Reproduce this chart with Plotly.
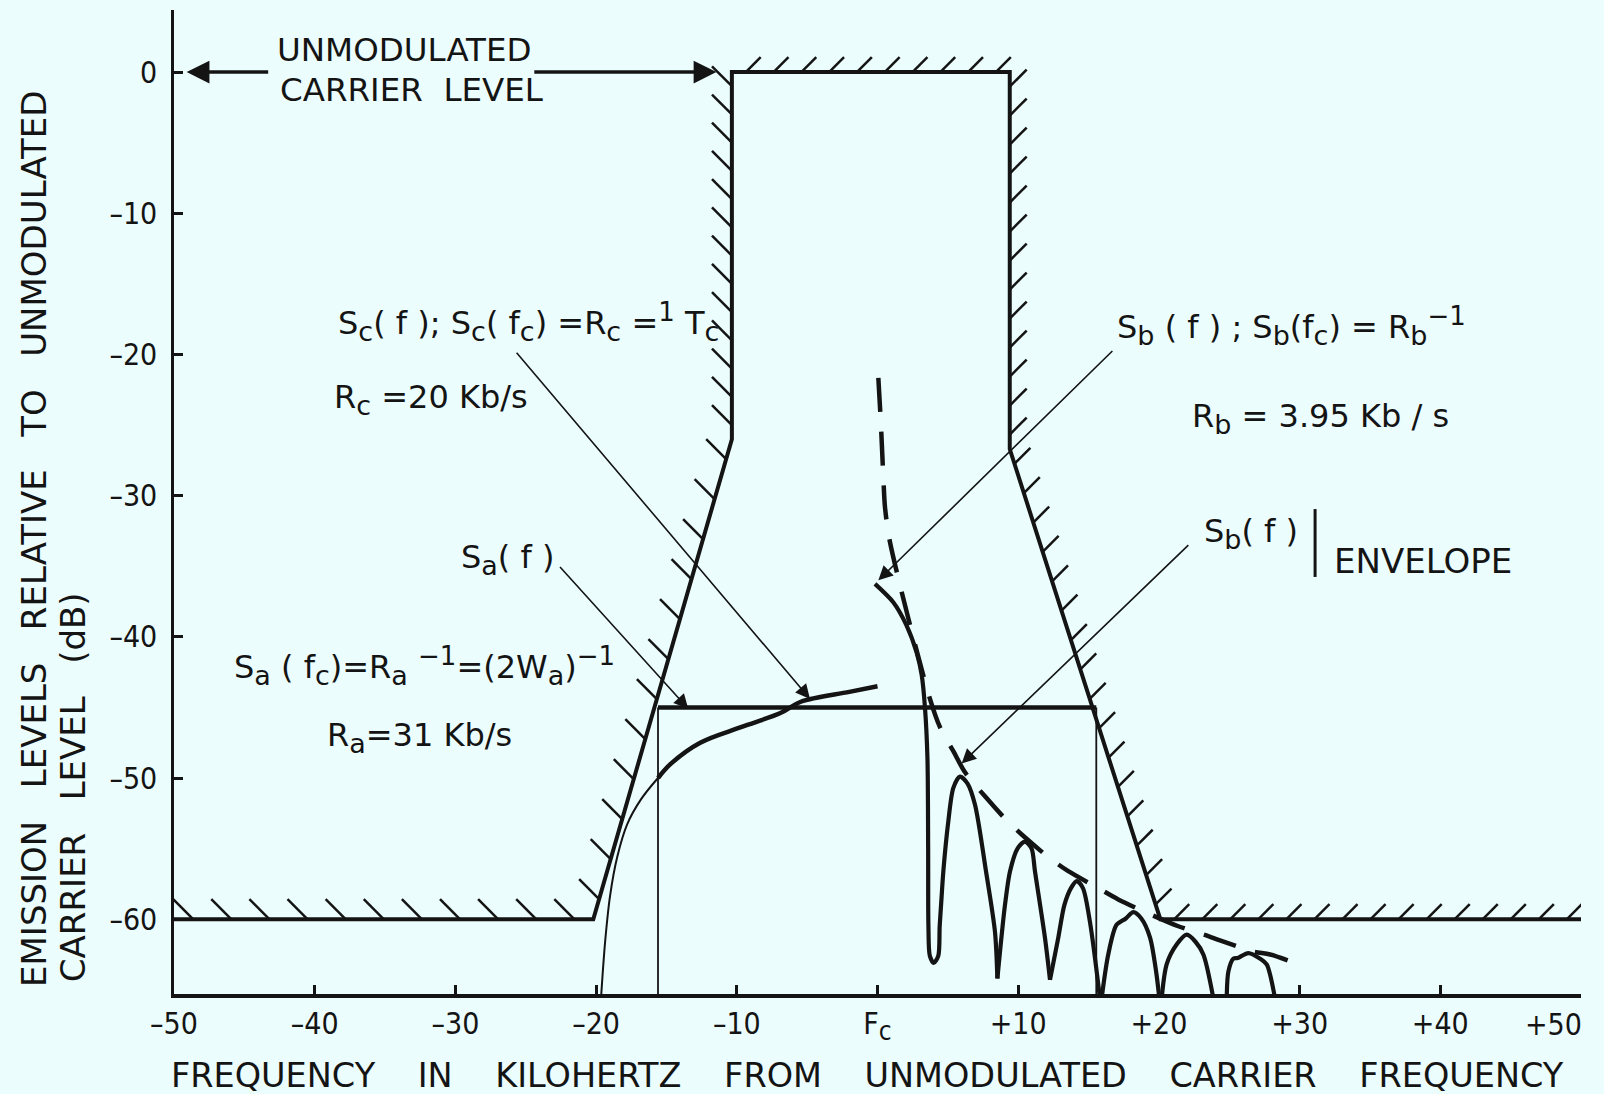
import math
import plotly.graph_objects as go

INK = "#141414"
PAPER = "#ECFDFD"
FONT = "DejaVu Sans"
COND = "DejaVu Sans Condensed, DejaVu Sans"

# ---------------------------------------------------------------- data
# spectrum emission mask (kHz from carrier, dB)
MASK_X = [-50, -20.2, -10.35, -10.35, 9.4, 9.4, 20.1, 50]
MASK_Y = [-60, -60, -26.0, 0, 0, -26.7, -60, -60]

# -45 dB reference level and its limits
LEVEL_X = [-15.6, 15.55]
LEVEL_Y = [-45.0, -45.0]

# S_a(f) spectrum
SA_X = [-19.65, -19.35, -19.0, -18.5, -17.8, -16.8, -15.6, -14.7, -12.6, -9.7, -6.9, -5.45, -2.0, 0.0]
SA_Y = [-65.6, -61.5, -58.3, -55.6, -53.3, -51.5, -50.0, -49.0, -47.5, -46.4, -45.4, -44.6, -43.9, -43.5]

# S_b(f) spectrum, one run per lobe
SB_X = [-0.18, 1.12, 2.07, 2.78, 3.14, 3.38, 3.55, 3.6, 3.62, 3.72, 4.0, 4.32, 4.42, 4.55,
        4.68, 5.03, 5.39, 5.86, 6.4, 6.93, 7.71, 8.35, 8.52, None,
        8.52, 9.06, 9.42, 9.95, 10.48, 10.95, 11.19, 11.9, 12.26, None,
        12.26, 12.85, 13.28, 13.75, 14.16, 14.6, 15.10, 15.81, None,
        15.93, 16.40, 16.99, 17.65, 18.18, 18.75, 19.37, 19.8, 20.03, None,
        20.2, 20.55, 21.26, 21.98, 22.6, 23.16, 23.87, None,
        24.82, 24.94, 25.3, 25.6, 26.36, 27.2, 27.66, 28.25]
SB_Y = [-36.25, -37.55, -39.2, -41.1, -42.7, -45.1, -48.6, -55.0, -60.5, -62.6, -63.1, -62.6, -60.5, -58.5,
        -56.6, -53.1, -50.7, -49.9, -50.4, -51.9, -56.6, -60.9, -64.2, None,
        -64.2, -59.0, -56.6, -55.0, -54.5, -55.0, -56.6, -61.3, -64.3, None,
        -64.3, -61.3, -59.0, -57.8, -57.3, -57.8, -60.2, -65.6, None,
        -65.6, -62.5, -60.4, -59.95, -59.5, -59.95, -61.3, -63.7, -65.6, None,
        -65.6, -63.2, -61.8, -61.1, -61.6, -62.5, -65.6, None,
        -65.6, -63.7, -62.8, -62.75, -62.4, -62.8, -63.2, -65.6]

# S_b(f) envelope
ENV_X = [0.06, 0.23, 0.42, 0.53, 0.89, 3.61, 4.44, 5.39, 6.22, 7.64, 9.18, 10.25, 12.14,
         13.56, 15.69, 17.11, 19.49, 21.38, 23.51, 24.34, 26.71, 27.9, 29.9]
ENV_Y = [-21.65, -24.7, -28.8, -30.8, -33.3, -44.0, -46.4, -48.1, -49.6, -51.3, -53.0, -54.0, -55.6,
         -56.6, -57.8, -58.6, -59.7, -60.5, -61.2, -61.5, -62.3, -62.5, -63.2]

SP = "\u00a0"

X_TICKS = [-50, -40, -30, -20, -10, 0, 10, 20, 30, 40, 50]
X_TICK_TEXT = ["\u201350", "\u201340", "\u201330", "\u201320", "\u201310",
               "F<sub><span style='font-size:26px'>c</span></sub>",
               "+10", "+20", "+30", "+40", "+50"]
Y_TICKS = [0, -10, -20, -30, -40, -50, -60]
Y_TICK_TEXT = ["0", "\u201310", "\u201320", "\u201330", "\u201340", "\u201350", "\u201360"]


def sub(t, px=27):
    return f"<sub><span style='font-size:{px}px'>{t}</span></sub>"


def sup(t, px=26):
    return f"<sup><span style='font-size:{px}px'>{t}</span></sup>"


fig = go.Figure()

# hatching on the outside of the mask, evenly spread along each edge
HATCH_STEP = [2.7, 3.0, 2.05, 2.0, 2.1, 2.2, 2.0]
HATCH_LEN = [2.0, 2.0, 2.0, 1.5, 1.7, 1.6, 1.5]
HATCH_DIR = [(-1, 1), (-1, 1), (-1, 1), (1, 1), (1, 1), (1, 1), (1, 1)]
hx, hy = [], []
for i in range(len(MASK_X) - 1):
    x0, y0, x1, y1 = MASK_X[i], MASK_Y[i], MASK_X[i + 1], MASK_Y[i + 1]
    seg = math.hypot(x1 - x0, y1 - y0)
    n = max(1, round(seg / HATCH_STEP[i]))
    ux, uy = HATCH_DIR[i]
    k = HATCH_LEN[i] / math.sqrt(2)
    for j in range(n):
        t = (j + 0.5) / n
        px, py = x0 + t * (x1 - x0), y0 + t * (y1 - y0)
        hx += [px, px + ux * k, None]
        hy += [py, py + uy * k, None]
fig.add_trace(go.Scatter(x=hx, y=hy, mode="lines", line=dict(color=INK, width=2.5),
                         hoverinfo="skip", showlegend=False))

# mask outline
fig.add_trace(go.Scatter(x=MASK_X, y=MASK_Y, mode="lines",
                         line=dict(color=INK, width=4), showlegend=False))

# -45 dB level with its drop lines to the frequency axis
fig.add_trace(go.Scatter(x=LEVEL_X, y=LEVEL_Y, mode="lines",
                         line=dict(color=INK, width=4.5), showlegend=False))
for xv in LEVEL_X:
    fig.add_trace(go.Scatter(x=[xv, xv], y=[LEVEL_Y[0], -70], mode="lines",
                             line=dict(color=INK, width=1.8), showlegend=False))

# S_a(f): thin outside the mask, heavy inside
SPLIT = SA_X.index(-15.6)
fig.add_trace(go.Scatter(x=SA_X[:SPLIT + 1], y=SA_Y[:SPLIT + 1], mode="lines", line_shape="spline",
                         line=dict(color=INK, width=2), showlegend=False))
fig.add_trace(go.Scatter(x=SA_X[SPLIT:], y=SA_Y[SPLIT:], mode="lines", line_shape="spline",
                         line=dict(color=INK, width=4.5), showlegend=False))

# S_b(f) lobes
fig.add_trace(go.Scatter(x=SB_X, y=SB_Y, mode="lines",
                         line=dict(color=INK, width=4.2, shape="spline", smoothing=0.8),
                         connectgaps=False, showlegend=False))

# S_b(f) envelope
fig.add_trace(go.Scatter(x=ENV_X, y=ENV_Y, mode="lines",
                         line=dict(color=INK, width=4.5, shape="spline", smoothing=0.8,
                                   dash="34px,20px"),
                         showlegend=False))

anns = []


def label(x, y, text, size=32, anchor="left"):
    anns.append(dict(x=x, y=y, xref="x", yref="y", text=text, showarrow=False,
                     xanchor=anchor, yanchor="middle",
                     font=dict(family=FONT, size=size, color=INK)))


def pointer(tail, head, width=1.6, size=1.8, style=2):
    anns.append(dict(x=head[0], y=head[1], ax=tail[0], ay=tail[1], xref="x", yref="y",
                     axref="x", ayref="y", text="", showarrow=True, arrowhead=style,
                     arrowsize=size, arrowwidth=width, arrowcolor=INK, standoff=0))


label(-42.8, 1.6, "UNMODULATED", 32.5)
label(-42.6, -1.25, "CARRIER" + SP * 2 + "LEVEL", 32.5)
pointer((-43.2, 0), (-49.1, 0), width=3.5, size=1.3)
pointer((-24.5, 0), (-11.45, 0), width=3.5, size=1.3)

label(-38.5, -17.7,
      "S" + sub("c") + "(" + SP + "f" + SP + ");" + SP + "S" + sub("c") + "(" + SP + "f" + sub("c") + ")"
      + SP + "=R" + sub("c") + SP + "=" + sup("1") + SP + "T" + sub("c"), 32)
label(-38.8, -23.2, "R" + sub("c") + SP + "=20" + SP + "Kb/s", 32)
pointer((-25.74, -19.77), (-4.8, -44.4))

label(-29.74, -34.5, "S" + sub("a") + "(" + SP + "f" + SP + ")", 32)
pointer((-22.66, -34.95), (-13.45, -45.1))

label(-45.9, -42.1,
      "S" + sub("a") + SP + "(" + SP + "f" + sub("c") + ")" + "=R" + sub("a") + SP + sup("\u22121")
      + "=(2W" + sub("a") + ")" + sup("\u22121"), 32)
label(-39.27, -47.1, "R" + sub("a") + "=31" + SP + "Kb/s", 32)

label(16.9, -18.0,
      "S" + sub("b") + SP + "(" + SP + "f" + SP + ")" + SP + ";" + SP + "S" + sub("b") + "(f" + sub("c") + ")"
      + SP + "=" + SP + "R" + sub("b") + sup("\u22121"), 32)
pointer((16.8, -19.65), (0.06, -36.0))
label(22.2, -24.5, "R" + sub("b") + SP + "=" + SP + "3.95" + SP + "Kb" + SP + "/" + SP + "s", 32)

label(23.04, -32.7, "S" + sub("b") + "(" + SP + "f" + SP + ")", 32)
label(32.28, -34.6, "ENVELOPE", 34)
pointer((22.2, -33.4), (5.98, -48.97))

# the last frequency label sits flush with the right end of the axis
anns.append(dict(x=X_TICKS[-1], y=-0.0305, xref="x", yref="paper", showarrow=False,
                 text=X_TICK_TEXT[-1], xanchor="right", yanchor="middle", xshift=3,
                 font=dict(family=COND, size=30, color=INK)))

# axis titles (paper coordinates)
anns.append(dict(x=0.4929, y=-0.083, xref="paper", yref="paper", showarrow=False,
                 text=(SP * 4).join(["FREQUENCY", "IN", "KILOHERTZ", "FROM", "UNMODULATED",
                                     "CARRIER", "FREQUENCY"]),
                 xanchor="center", yanchor="middle",
                 font=dict(family=FONT, size=33.5, color=INK)))
anns.append(dict(x=-0.0996, y=0.005, xref="paper", yref="paper", showarrow=False, textangle=-90,
                 text=(SP * 3).join(["EMISSION", "LEVELS", "RELATIVE", "TO", "UNMODULATED"]),
                 xanchor="center", yanchor="bottom",
                 font=dict(family=FONT, size=34, color=INK)))
anns.append(dict(x=-0.0718, y=0.010, xref="paper", yref="paper", showarrow=False, textangle=-90,
                 text=(SP * 3).join(["CARRIER", "LEVEL", "(dB)"]),
                 xanchor="center", yanchor="bottom",
                 font=dict(family=FONT, size=34, color=INK)))

fig.update_layout(
    width=1604, height=1094,
    margin=dict(l=174, r=23, t=10, b=100, autoexpand=False),
    paper_bgcolor=PAPER, plot_bgcolor=PAPER,
    showlegend=False,
    annotations=anns,
    shapes=[dict(type="line", xref="x", yref="y", x0=31.1, x1=31.1, y0=-30.95, y1=-35.76,
                 line=dict(color=INK, width=3))],
    xaxis=dict(range=[-50, 50], showgrid=False, zeroline=False, showline=True, automargin=False,
               linecolor=INK, linewidth=3.5, ticks="inside", ticklen=9, tickwidth=2.5,
               tickcolor=INK, tickvals=X_TICKS, ticktext=X_TICK_TEXT[:-1] + [""],
               ticklabelstandoff=0,
               tickfont=dict(family=COND, size=30, color=INK)),
    yaxis=dict(range=[-65.3, 4.4], showgrid=False, zeroline=False, showline=True, automargin=False,
               linecolor=INK, linewidth=2.5, ticks="inside", ticklen=9, tickwidth=2.5,
               tickcolor=INK, tickvals=Y_TICKS, ticktext=Y_TICK_TEXT, ticklabelstandoff=8,
               tickfont=dict(family=COND, size=30, color=INK)),
)

fig.write_html("out.html")
